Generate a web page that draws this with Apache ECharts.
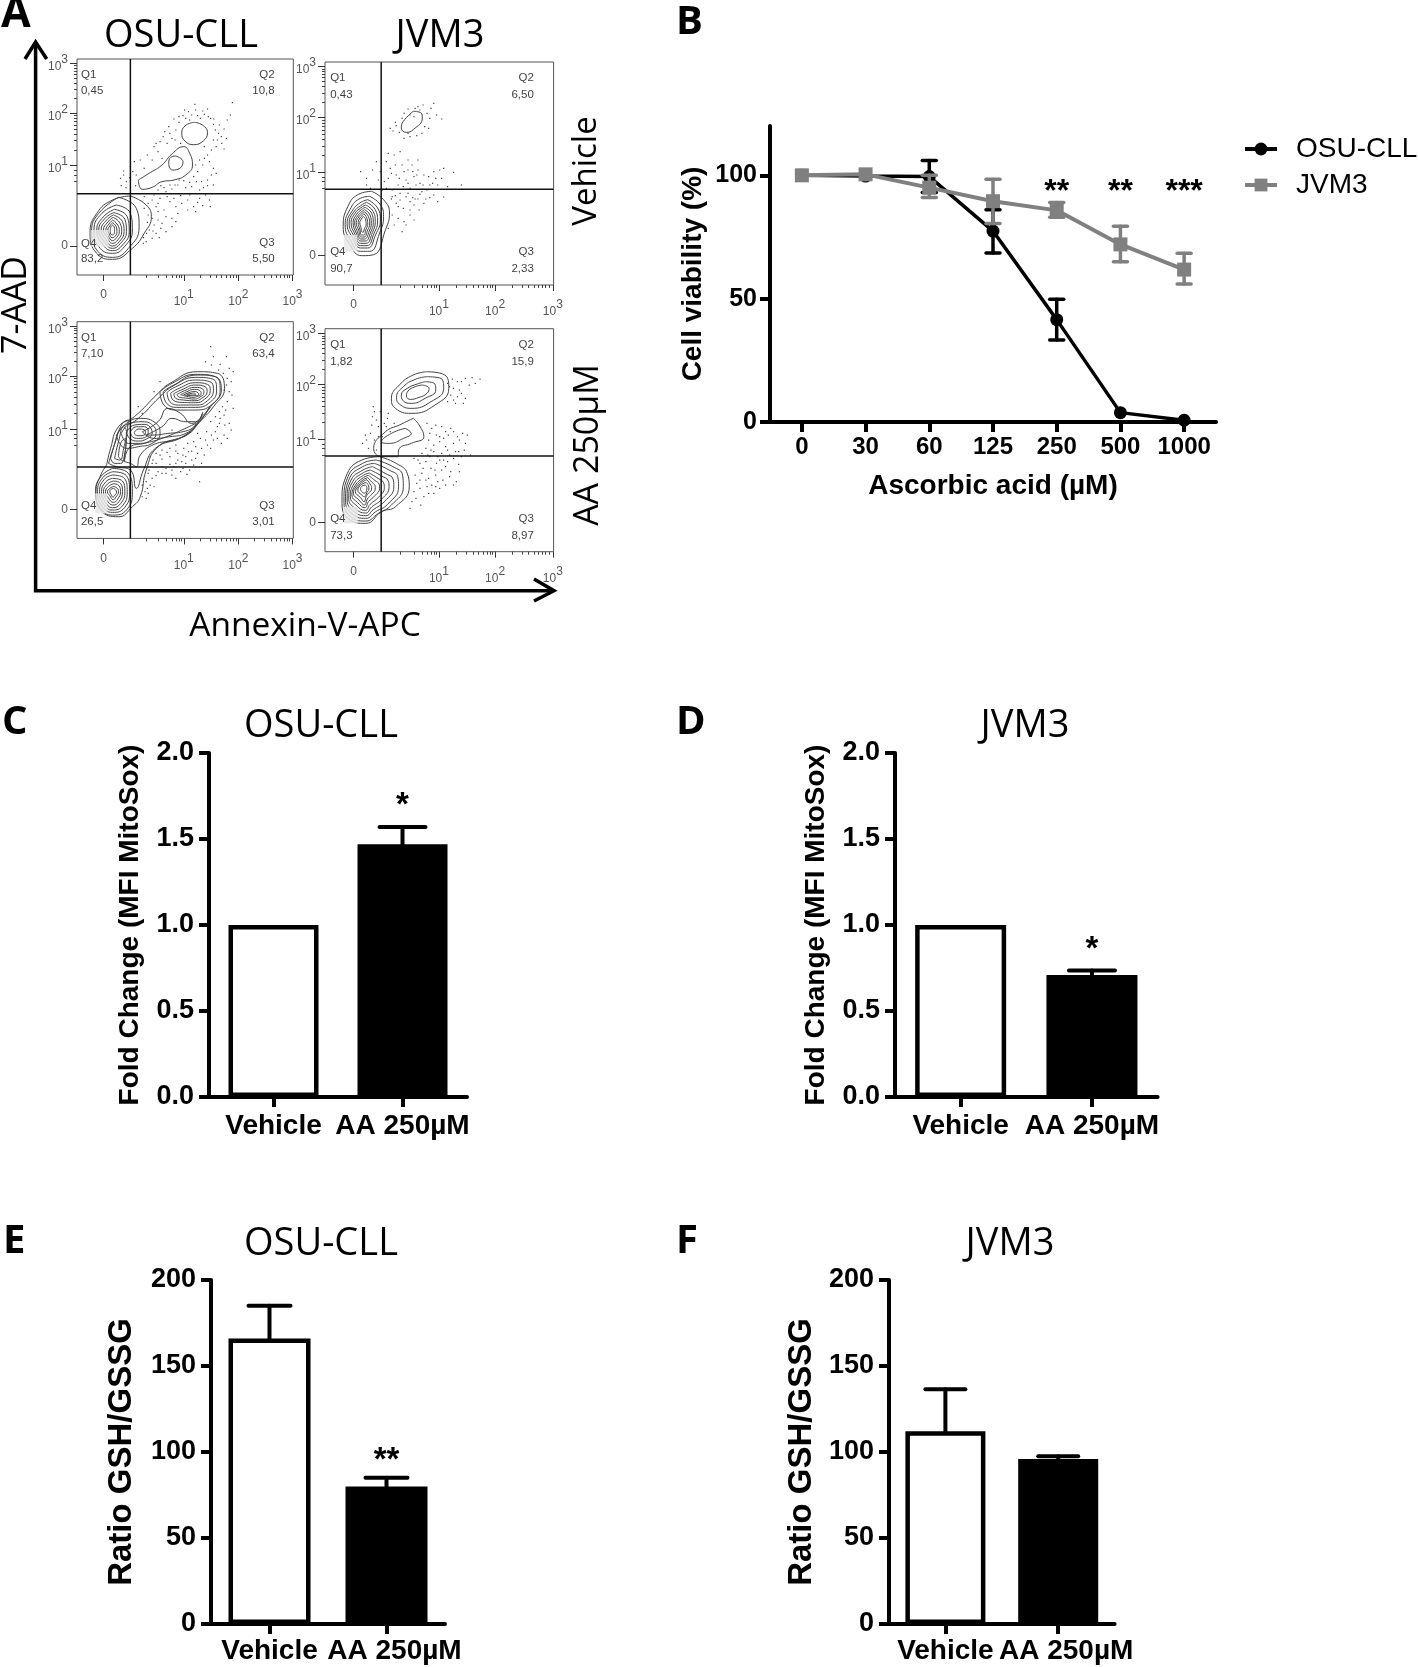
<!DOCTYPE html>
<html><head><meta charset="utf-8">
<script src="https://cdn.jsdelivr.net/npm/echarts@6/dist/echarts.min.js"></script>
<style>html,body{margin:0;padding:0;background:#fff}#c{width:1418px;height:1667px}</style>
</head><body><div id="c"></div>
<script>
// ---------- Panel B ----------
const doseLabels = ['0','30','60','125','250','500','1000'];
const osuViability = [100,99.7,99.5,77.4,41.5,3.8,0.7];
const jvmViability = [100,100.4,95,89.5,85.8,72,61.8];
const osuErrors = [[2,93,106],[3,68.5,86],[4,33.2,49.8]];
const jvmErrors = [[2,91,100],[3,80.5,98.4],[4,83,89],[5,65,79.4],[6,55.9,68.4]];
const viabilityStars = [[4,93,'**'],[5,93,'**'],[6,93,'***']];
// ---------- Panels C-F ----------
const treatments = ['Vehicle','AA 250µM'];
const mitoOsu = [1.0,1.47];  const mitoOsuErr = [[1,1.47,1.57]];  const mitoOsuStars = [[1,1.69,'*']];
const mitoJvm = [1.0,0.71];  const mitoJvmErr = [[1,0.71,0.735]]; const mitoJvmStars = [[1,0.855,'*']];
const gshOsu = [166,80];     const gshOsuErr = [[0,166,185],[1,80,85]]; const gshOsuStars = [[1,95,'**']];
const gshJvm = [112,96];     const gshJvmErr = [[0,112,136.5],[1,96,97.6]];
// ---------- Panel A: flow plots, in display channels ----------
const logLabels = ['0','{b|10}{s|1}','{b|10}{s|2}','{b|10}{s|3}'];
const a1XTicks=[67,270,408,545], a1YTicks=[87,328,485,635];
const a2XTicks=[72,288,430,576], a2YTicks=[88,338,504,655];
const a3YTicks=[87,328,487,637];
const a4YTicks=[87,337,503,655];
const a13XMinor=[175,205,225,240,250,258,264,312,336,353,366,377,387,395,402,449,473,490,503,513,523,531,538];
const a24XMinor=[190,225,245,258,268,276,282,332,358,375,388,400,410,418,424,473,498,515,528,540,550,558,566];
const a1YMinor=[280,300,313,375,403,422,437,450,461,470,478,530,557,575,590,602,612,621,628];
const a2YMinor=[290,310,323,388,416,436,452,465,476,486,495,549,575,595,610,622,632,641,648];
const a3YMinor=[280,300,313,375,403,424,439,452,463,472,480,532,559,577,592,604,614,623,630];
const a4YMinor=[290,310,323,387,415,435,451,464,475,485,494,548,574,594,609,621,631,640,647];
const a1Gates=[135,244], a2Gates=[142,287], a3Gates=[135,214], a4Gates=[142,287];
const a1Quads=[[10,600,'Q1','l'],[10,553,'0,45','l'],[500,600,'Q2','r'],[500,553,'10,8','r'],[10,95,'Q4','l'],[10,48,'83,2','l'],[500,97,'Q3','r'],[500,49,'5,50','r']];
const a2Quads=[[13,621,'Q1','l'],[13,571,'0,43','l'],[528,621,'Q2','r'],[528,571,'6,50','r'],[13,99,'Q4','l'],[13,49,'90,7','l'],[528,99,'Q3','r'],[528,49,'2,33','r']];
const a3Quads=[[10,602,'Q1','l'],[10,555,'7,10','l'],[500,602,'Q2','r'],[500,555,'63,4','r'],[10,97,'Q4','l'],[10,50,'26,5','l'],[500,97,'Q3','r'],[500,50,'3,01','r']];
const a4Quads=[[13,621,'Q1','l'],[13,570,'1,82','l'],[528,621,'Q2','r'],[528,570,'15,9','r'],[13,98,'Q4','l'],[13,48,'73,3','l'],[528,98,'Q3','r'],[528,48,'8,97','r']];
const a1Patch=[35,85,80,135], a2Patch=[48,100,82,150], a3Patch=[46,75,77,135], a4Patch=[46,85,83,135];

const a1Rings=[
[[295,458],[317,450],[330,427],[320,403],[295,391],[273,402],[265,425],[273,447]],
[[155,285],[185,307],[215,330],[240,363],[270,385],[285,365],[292,330],[275,300],[245,285],[215,280],[190,263],[165,257]],
[[250,357],[268,340],[260,320],[242,315],[232,335],[237,353]],
[[135,237],[175,210],[188,175],[170,125],[140,80],[90,47],[50,65],[33,125],[50,185],[90,225]],
[[105,233],[150,200],[157,145],[130,80],[90,53],[50,75],[37,130],[55,185]],
[[100,210],[135,185],[140,135],[120,85],[90,65],[55,85],[43,135],[63,185]],
[[95,197],[127,175],[132,130],[115,90],[90,73],[63,95],[50,135],[67,175]],
[[93,187],[121,167],[125,130],[110,95],[90,80],[67,103],[55,135],[71,170]],
[[92,180],[115,160],[119,130],[107,100],[90,87],[71,110],[61,135],[75,165]],
[[91,173],[109,155],[113,130],[103,105],[90,95],[75,115],[67,135],[78,159]],
[[90,165],[103,150],[107,130],[100,112],[90,103],[78,120],[73,135],[81,153]],
[[90,157],[99,145],[101,130],[97,117],[89,112],[81,125],[78,135],[83,147]],
[[90,150],[95,140],[95,128],[89,120],[84,130],[85,142]]];
const a1Dots=[[110,290],[118,300],[125,280],[135,325],[145,340],[150,300],[160,345],[170,320],[178,360],[190,345],[195,385],[205,370],[210,400],[215,350],[222,430],[228,395],[232,445],[240,410],[245,468],[250,435],[258,458],[262,395],[268,478],[275,470],[282,490],[290,480],[298,512],[305,478],[312,470],[322,482],[330,498],[338,470],[345,452],[350,435],[358,425],[365,415],[372,438],[380,465],[388,480],[393,517],[345,405],[352,385],[340,375],[330,360],[322,385],[310,345],[318,330],[335,340],[345,320],[352,305],[305,310],[295,295],[315,280],[330,285],[345,270],[290,265],[310,255],[275,262],[255,270],[240,258],[225,250],[205,255],[170,235],[180,215],[190,225],[200,205],[210,230],[220,195],[235,220],[250,205],[265,215],[280,225],[295,205],[310,230],[325,240],[335,225],[337,205],[300,190],[280,195],[255,185],[240,170],[225,175],[205,165],[195,150],[212,140],[200,125],[225,130],[190,110],[175,100],[168,112],[183,135],[240,145],[250,160],
[112,268],[124,262],[133,292],[118,312],[141,310],[148,268],[200,395],[218,415],[235,425],[248,405],[258,475],[272,495],[285,465],[300,495],[318,492],[332,475],[346,468],[360,450],[355,405],[366,395],[372,378],[378,410],[300,330],[322,350],[340,300],[330,268],[320,262],[302,280],[285,278],[270,283],[258,285],[248,270],[235,270],[220,262],[212,268],[195,240],[205,215],[228,235],[245,230],[262,238],[285,240],[305,218],[318,208],[170,200],[180,180],[190,170],[178,158],[205,190],[215,155],[168,95],[176,125],[192,132],[208,112]];

const a2Rings=[
[[223,521],[243,516],[246,501],[223,466],[206,458],[193,471],[198,491]],
[[118,281],[148,256],[163,216],[153,166],[123,91],[93,88],[63,121],[46,176],[58,236],[83,271]],
[[113,266],[140,241],[148,206],[138,156],[113,101],[90,101],[66,131],[51,181],[63,226],[86,258]],
[[108,256],[133,231],[140,196],[128,151],[108,111],[90,111],[70,141],[56,184],[68,221],[88,246]],
[[105,248],[127,226],[133,192],[124,155],[106,118],[90,118],[73,147],[61,186],[72,218],[90,238]],
[[103,240],[122,220],[127,190],[120,158],[104,125],[90,125],[76,152],[66,187],[76,215],[91,232]],
[[101,233],[118,215],[122,187],[116,160],[102,132],[90,132],[79,156],[71,187],[80,212],[92,226]],
[[100,226],[114,210],[117,185],[112,162],[100,138],[91,138],[82,160],[75,187],[83,208],[93,220]],
[[99,220],[110,205],[113,183],[108,165],[99,144],[92,144],[85,165],[79,187],[86,205],[93,214]],
[[98,214],[106,200],[108,182],[104,168],[98,150],[93,150],[88,168],[84,187],[89,202],[94,208]],
[[97,206],[103,195],[104,180],[100,170],[96,158],[93,160],[91,172],[88,187],[92,198]]];
const a2Dots=[[165,470],[172,462],[180,478],[188,458],[178,488],[195,500],[200,515],[210,528],[215,510],[228,530],[240,525],[248,540],[258,515],[265,500],[275,545],[295,498],[252,475],[262,470],[245,455],[232,448],[215,445],[200,440],[90,340],[105,320],[115,290],[130,370],[140,340],[150,310],[145,285],[160,395],[165,350],[175,390],[180,330],[185,300],[190,275],[200,340],[205,315],[215,290],[220,360],[225,325],[235,345],[240,305],[250,330],[258,285],[265,300],[275,340],[280,320],[290,345],[300,350],[310,295],[325,338],[345,300],[160,320],[170,285],[195,360],[210,345],[230,300],[245,280],[170,265],[180,245],[190,255],[198,230],[205,265],[215,250],[225,240],[235,258],[250,245],[265,262],[285,250],[300,264],[200,190],[195,160],[225,195],[238,225],[170,210],[160,170],[175,180],
[105,300],[120,345],[135,315],[155,290],[168,335],[178,360],[188,320],[198,295],[210,305],[222,340],[232,330],[248,300],[262,325],[272,305],[285,300],[295,320],[155,370],[190,400],[210,375],[235,375],[168,258],[178,268],[185,235],[210,275],[222,262],[240,272],[255,258],[275,270],[215,225],[228,258],[205,180],[215,210],[185,200],[225,505],[210,455],[235,535],[268,530],[282,510]];

const a3Rings=[
[[90,210],[130,195],[140,140],[125,85],[90,70],[60,90],[47,140],[60,185]],
[[90,200],[125,188],[133,140],[120,92],[90,78],[63,97],[52,140],[65,182]],
[[90,190],[120,180],[127,140],[115,98],[90,85],[67,103],[57,140],[69,177]],
[[90,180],[115,172],[121,140],[110,104],[90,92],[71,110],[62,140],[73,170]],
[[92,172],[110,165],[115,140],[106,110],[91,100],[75,116],[67,140],[77,163]],
[[93,164],[106,158],[110,140],[103,118],[92,108],[79,122],[72,140],[80,156]],
[[93,156],[102,150],[105,140],[99,125],[92,116],[83,128],[77,140],[83,150]],
[[93,150],[98,145],[100,139],[96,130],[91,124],[86,132],[83,140],[86,147]],
[[75,220],[85,270],[105,335],[145,365],[205,435],[235,465],[305,500],[355,495],[373,450],[345,395],[315,355],[275,310],[205,275],[175,205],[160,125],[140,95],[105,65],[60,85],[48,140],[60,190]],
[[80,225],[93,275],[112,330],[150,355],[210,425],[240,455],[305,490],[350,485],[365,445],[338,395],[308,350],[268,305],[198,270],[168,205],[150,150],[135,205],[100,215]],
[[100,310],[125,345],[160,360],[200,345],[210,315],[190,285],[155,275],[125,270],[108,285]],
[[112,315],[135,345],[165,350],[195,335],[200,315],[185,293],[155,285],[130,285]],
[[125,318],[145,340],[170,342],[188,328],[190,315],[175,298],[155,292],[135,298]],
[[135,320],[150,335],[170,335],[180,322],[175,305],[155,300],[140,305]],
[[145,318],[155,328],[170,326],[173,315],[160,308],[148,310]],
[[85,240],[97,290],[115,345],[130,355],[125,300],[120,250],[110,225],[95,225]],
[[95,240],[105,290],[118,335],[125,320],[118,270],[108,235]],
[[105,245],[112,290],[125,300],[122,262],[116,232]],
[[120,230],[135,275],[170,285],[215,300],[265,325],[300,345],[290,320],[245,295],[195,282],[160,250],[150,215],[135,225]],
[[165,320],[205,350],[230,390],[262,375],[290,345],[320,370],[335,395],[310,350],[275,315],[235,305],[195,300]],
[[175,310],[215,335],[240,360],[275,350],[300,350],[318,378],[300,340],[268,320],[230,315],[195,310]],
[[210,440],[240,465],[300,492],[350,485],[362,445],[345,405],[300,385],[255,385],[220,400]],
[[218,440],[245,460],[300,483],[343,478],[353,445],[338,410],[300,393],[258,393],[227,405]],
[[228,438],[250,455],[300,475],[336,470],[345,445],[330,413],[300,400],[262,400],[235,410]],
[[237,436],[258,450],[300,467],[330,462],[337,443],[322,417],[300,407],[266,408],[243,415]],
[[245,434],[265,446],[300,460],[324,455],[329,440],[315,420],[298,413],[270,415],[250,420]],
[[253,432],[272,443],[298,453],[318,448],[321,437],[308,422],[296,418],[275,421],[258,424]],
[[262,431],[278,440],[297,447],[312,442],[314,434],[302,425],[294,423],[278,426]],
[[270,431],[283,437],[296,441],[306,437],[308,432],[298,428],[290,428]],
[[278,431],[288,435],[295,436],[300,433],[293,430]]];
const a3Dots=[[338,575],[325,530],[340,520],[362,522],[378,545],[385,510],[395,500],[380,480],[390,470],[372,445],[385,440],[395,390],[380,410],[368,395],[360,380],[372,370],[385,345],[360,345],[350,365],[338,350],[328,320],[350,320],[372,310],[345,295],[325,295],[305,315],[295,290],[280,285],[315,270],[290,262],[270,270],[250,280],[235,270],[215,265],[200,255],[185,245],[255,255],[235,245],[215,238],[275,245],[300,240],[315,225],[295,220],[275,225],[255,235],[235,222],[215,215],[190,225],[180,195],[175,170],[200,188],[185,160],[180,135],[225,195],[240,190],[262,200],[310,170],[165,125],[175,120],[195,155],[240,325],[210,470],[165,375],[195,440],[155,395],
[345,545],[358,505],[370,495],[378,460],[392,430],[376,385],[362,360],[374,340],[390,325],[355,335],[340,310],[330,280],[312,300],[300,275],[282,260],[268,250],[250,262],[228,258],[210,250],[192,235],[305,255],[322,250],[338,270],[290,235],[265,230],[245,215],[225,210],[205,200],[190,180],[178,150],[172,140],[165,160],[182,205],[200,225],[215,195],[250,180],[268,210],[285,205],[278,192],[240,205],[250,225],[355,300],[365,285],[380,300]];

const a4Rings=[
[[258,540],[303,530],[313,490],[278,440],[218,415],[178,430],[168,460],[188,500],[223,530]],
[[258,525],[293,520],[300,490],[268,450],[218,430],[188,443],[181,463],[198,495],[228,517]],
[[253,510],[278,503],[280,485],[253,460],[218,445],[196,455],[193,470],[208,490],[233,503]],
[[246,500],[263,490],[258,475],[238,463],[216,457],[206,467],[210,482],[228,495]],
[[223,400],[238,380],[250,345],[218,325],[188,310],[183,285],[143,285],[123,310],[153,360],[188,380]],
[[203,370],[218,355],[198,340],[163,325],[143,330],[168,355]],
[[138,285],[180,265],[208,235],[213,195],[178,135],[143,120],[103,85],[58,100],[43,155],[53,225],[93,275]],
[[130,275],[172,255],[196,230],[198,195],[168,140],[135,115],[103,92],[62,108],[48,155],[58,225],[95,265]],
[[125,265],[162,245],[184,225],[186,195],[158,142],[128,120],[103,100],[66,116],[52,155],[62,220],[95,255]],
[[120,255],[152,235],[172,218],[174,195],[150,150],[122,126],[103,108],[70,124],[56,158],[66,215],[96,245]],
[[115,245],[142,228],[160,212],[162,195],[142,156],[118,134],[103,116],[74,132],[60,160],[70,210],[97,237]],
[[112,236],[134,220],[148,207],[150,192],[134,162],[114,142],[102,124],[78,140],[64,165],[74,205],[97,229]],
[[110,229],[126,214],[137,202],[138,190],[126,168],[110,150],[101,132],[82,148],[68,170],[77,200],[97,222]],
[[108,222],[119,208],[127,196],[127,188],[118,172],[107,158],[100,140],[86,155],[72,175],[80,197],[97,216]],
[[106,216],[114,203],[118,192],[117,184],[110,176],[104,165],[99,150],[90,162],[77,180],[83,195],[96,210]],
[[104,208],[110,198],[111,188],[106,178],[100,165],[93,170],[83,185],[88,197],[96,204]],
[[102,200],[106,192],[105,183],[100,176],[95,178],[90,187],[93,196]]];
const a4Dots=[[310,505],[322,518],[335,510],[355,520],[372,522],[392,518],[325,490],[340,485],[318,470],[335,465],[355,460],[330,445],[310,450],[120,405],[122,435],[130,395],[140,420],[150,385],[158,400],[165,360],[175,385],[118,380],[135,345],[105,335],[95,325],[110,310],[130,305],[258,385],[270,370],[282,350],[295,375],[305,360],[318,370],[335,345],[348,355],[262,335],[275,320],[290,330],[305,315],[325,325],[338,300],[352,305],[368,290],[255,310],[275,300],[295,295],[315,290],[345,285],[300,275],[225,280],[240,265],[255,270],[268,250],[282,265],[295,245],[310,270],[325,280],[340,240],[332,210],[315,225],[298,215],[280,230],[262,220],[245,235],[232,205],[225,180],[240,190],[258,195],[275,175],[290,190],[250,165],[215,130],
[345,510],[365,500],[380,505],[315,495],[345,475],[325,455],[350,445],[125,420],[135,375],[145,345],[155,375],[115,355],[125,335],[102,350],[160,415],[265,355],[280,380],[290,345],[300,340],[312,350],[325,360],[340,335],[355,325],[360,350],[268,305],[285,285],[310,305],[330,300],[245,295],[260,290],[235,275],[248,250],[265,285],[278,245],[290,275],[305,255],[318,240],[338,262],[325,200],[305,200],[285,210],[270,200],[255,215],[240,215],[228,230],[262,175],[280,195],[230,160],[220,150],[242,140]];

// ---------- Build ----------
const SANS='Liberation Sans', HEAD='Open Sans';
const grid=[],xAxis=[],yAxis=[],series=[];

function textSeries(xi,yi,items,font,color,z){
  series.push({type:'custom',xAxisIndex:xi,yAxisIndex:yi,silent:true,z:z||6,clip:false,
    data:items.map(d=>[d[0],d[1]]),
    renderItem:(p,api)=>{const it=items[p.dataIndex];const c=api.coord([api.value(0),api.value(1)]);
      return {type:'text',x:c[0],y:c[1],style:{text:it[2],font:font,fill:color,
        align:it[3]==='r'?'right':it[3]==='l'?'left':'center',verticalAlign:'middle'}};}});
}
function errorSeries(xi,yi,items,color,lw,cap,z,both){
  series.push({type:'custom',xAxisIndex:xi,yAxisIndex:yi,silent:true,z:z,data:items,
    renderItem:(p,api)=>{const lo=api.coord([api.value(0),api.value(1)]),hi=api.coord([api.value(0),api.value(2)]);
      const st={stroke:color,lineWidth:lw,lineCap:'round'};
      const kids=[{type:'line',shape:{x1:lo[0],y1:lo[1],x2:hi[0],y2:hi[1]},style:st},
                  {type:'line',shape:{x1:hi[0]-cap,y1:hi[1],x2:hi[0]+cap,y2:hi[1]},style:st}];
      if(both)kids.push({type:'line',shape:{x1:lo[0]-cap,y1:lo[1],x2:lo[0]+cap,y2:lo[1]},style:st});
      return {type:'group',children:kids};}});
}
function addPlot(box,xr,yr,xT,yT,xM,yM,gates,quads,rings,dots,patch){
  const g=grid.length;
  grid.push({left:box[0],top:box[1],width:box[2],height:box[3],show:true,borderColor:'#555',borderWidth:1,backgroundColor:'transparent',containLabel:false});
  const xi=xAxis.length, yi=yAxis.length;
  const lab={show:true,color:'#555',fontFamily:SANS,fontSize:12,
    rich:{b:{fontFamily:SANS,fontSize:12,color:'#555',padding:[7,0,0,0]},s:{fontFamily:SANS,fontSize:12,color:'#555',padding:[0,0,7,0]}}};
  xAxis.push({type:'value',gridIndex:g,min:0,max:xr,position:'bottom',splitLine:{show:false},axisLine:{show:false,onZero:false},
    axisTick:{show:true,length:6,lineStyle:{color:'#333',width:1},customValues:xT},
    axisLabel:Object.assign({},lab,{margin:14,customValues:xT,formatter:v=>logLabels[xT.indexOf(v)]})});
  yAxis.push({type:'value',gridIndex:g,min:0,max:yr,position:'left',splitLine:{show:false},axisLine:{show:false,onZero:false},
    axisTick:{show:true,length:7,lineStyle:{color:'#333',width:1},customValues:yT},
    axisLabel:Object.assign({},lab,{margin:9,customValues:yT,formatter:v=>logLabels[yT.indexOf(v)]})});
  xAxis.push({type:'value',gridIndex:g,min:0,max:xr,position:'bottom',splitLine:{show:false},axisLine:{show:false,onZero:false},
    axisTick:{show:true,length:3,lineStyle:{color:'#444',width:1},customValues:xM},axisLabel:{show:false}});
  yAxis.push({type:'value',gridIndex:g,min:0,max:yr,position:'left',splitLine:{show:false},axisLine:{show:false,onZero:false},
    axisTick:{show:true,length:3,lineStyle:{color:'#444',width:1},customValues:yM},axisLabel:{show:false}});
  series.push({type:'scatter',xAxisIndex:xi,yAxisIndex:yi,data:dots,symbol:'rect',symbolSize:1.2,itemStyle:{color:'#111'},silent:true,z:2});
  rings.forEach(r=>series.push({type:'line',xAxisIndex:xi,yAxisIndex:yi,data:r.concat([r[0]]),smooth:0.5,showSymbol:false,
    lineStyle:{color:'#444',width:1},silent:true,z:3}));
  series.push({type:'custom',xAxisIndex:xi,yAxisIndex:yi,silent:true,z:4,data:[patch],
    renderItem:(p,api)=>{const a=api.coord([api.value(0),api.value(3)]),b=api.coord([api.value(2),api.value(1)]);
      return {type:'rect',shape:{x:a[0],y:a[1],width:b[0]-a[0],height:b[1]-a[1]},style:{fill:'rgba(232,232,232,0.85)'}};}});
  series.push({type:'line',xAxisIndex:xi,yAxisIndex:yi,data:[[gates[0],0],[gates[0],yr]],showSymbol:false,lineStyle:{color:'#111',width:1.5},silent:true,z:5});
  series.push({type:'line',xAxisIndex:xi,yAxisIndex:yi,data:[[0,gates[1]],[xr,gates[1]]],showSymbol:false,lineStyle:{color:'#111',width:1.5},silent:true,z:5});
  textSeries(xi,yi,quads,'11.5px '+SANS,'#444');
}
addPlot([77,59,216.3,216],547,648,a1XTicks,a1YTicks,a13XMinor,a1YMinor,a1Gates,a1Quads,a1Rings,a1Dots,a1Patch);
addPlot([325,62,228.6,223],578,669,a2XTicks,a2YTicks,a24XMinor,a2YMinor,a2Gates,a2Quads,a2Rings,a2Dots,a2Patch);
addPlot([77,321.7,216.3,216.7],547,650,a1XTicks,a3YTicks,a13XMinor,a3YMinor,a3Gates,a3Quads,a3Rings,a3Dots,a3Patch);
addPlot([325,328.7,228.6,223],578,669,a2XTicks,a4YTicks,a24XMinor,a4YMinor,a4Gates,a4Quads,a4Rings,a4Dots,a4Patch);

const axLine={show:true,onZero:false,lineStyle:{color:'#000',width:4}};
const axTick={show:true,length:10,lineStyle:{color:'#000',width:4}};
// Panel B
{
  const g=grid.length,xi=xAxis.length,yi=yAxis.length;
  grid.push({left:770,top:126,width:446,height:296,containLabel:false});
  xAxis.push({type:'category',gridIndex:g,data:doseLabels,axisLine:axLine,axisTick:Object.assign({alignWithLabel:true},axTick),
    axisLabel:{interval:0,color:'#000',fontFamily:SANS,fontWeight:'bold',fontSize:24,margin:13},
    name:'Ascorbic acid (µM)',nameLocation:'middle',nameGap:50,nameMoveOverlap:false,
    nameTextStyle:{color:'#000',fontFamily:SANS,fontWeight:'bold',fontSize:28}});
  yAxis.push({type:'value',gridIndex:g,min:0,max:120,interval:50,splitLine:{show:false},axisLine:axLine,
    axisTick:Object.assign({customValues:[0,50,100]},axTick),
    axisLabel:{customValues:[0,50,100],color:'#000',fontFamily:SANS,fontWeight:'bold',fontSize:25,margin:13},
    name:'Cell viability (%)',nameLocation:'middle',nameRotate:90,nameGap:63,nameMoveOverlap:false,
    nameTextStyle:{color:'#000',fontFamily:SANS,fontWeight:'bold',fontSize:28}});
  errorSeries(xi,yi,osuErrors,'#000',3.5,7,3,true);
  series.push({type:'line',name:'OSU-CLL',xAxisIndex:xi,yAxisIndex:yi,data:osuViability,symbol:'circle',symbolSize:13,
    lineStyle:{color:'#000',width:3.5},itemStyle:{color:'#000'},z:4});
  errorSeries(xi,yi,jvmErrors,'#808080',3.5,7,5,true);
  series.push({type:'line',name:'JVM3',xAxisIndex:xi,yAxisIndex:yi,data:jvmViability,symbol:'rect',symbolSize:14,
    lineStyle:{color:'#808080',width:4},itemStyle:{color:'#808080'},z:6});
  textSeries(xi,yi,viabilityStars,'bold 32px '+SANS,'#000',7);
}
// Panels C-F
function addBars(box,vals,errs,stars,yOpt,name,fs,barW,cap,gap,shift,lm){
  const g=grid.length,xi=xAxis.length,yi=yAxis.length;
  grid.push({left:box[0],top:box[1],width:box[2],height:box[3],containLabel:false});
  xAxis.push({type:'category',gridIndex:g,axisLine:axLine,axisTick:Object.assign({alignWithLabel:true},axTick),
    data:treatments.map((t,i)=>i===1&&shift?{value:t,textStyle:{padding:[0,0,0,shift]}}:t),
    axisLabel:{interval:0,color:'#000',fontFamily:SANS,fontWeight:'bold',fontSize:28,margin:lm,hideOverlap:false}});
  yAxis.push(Object.assign({type:'value',gridIndex:g,splitLine:{show:false},axisLine:axLine,axisTick:axTick,
    name:name,nameLocation:'middle',nameRotate:90,nameGap:gap,nameMoveOverlap:false,
    nameTextStyle:{color:'#000',fontFamily:SANS,fontWeight:'bold',fontSize:fs}},yOpt));
  errorSeries(xi,yi,errs,'#000',4,cap,2,false);
  series.push({type:'bar',xAxisIndex:xi,yAxisIndex:yi,barWidth:barW,z:3,
    data:vals.map((v,i)=>({value:v,itemStyle:{color:i===0?'#fff':'#000',borderColor:'#000',borderWidth:4.5}}))});
  if(stars.length)textSeries(xi,yi,stars,'bold 33px '+SANS,'#000',7);
}
const mfiLab={color:'#000',fontFamily:SANS,fontWeight:'bold',fontSize:27,margin:15,formatter:v=>v.toFixed(1)};
const gshLab={color:'#000',fontFamily:SANS,fontWeight:'bold',fontSize:27,margin:15};
const mfiY={min:0,max:2,interval:0.5,axisLabel:mfiLab}, gshY={min:0,max:200,interval:50,axisLabel:gshLab};
addBars([209,753,258,344],mitoOsu,mitoOsuErr,mitoOsuStars,mfiY,'Fold Change (MFI MitoSox)',28,90,23,65,0,15);
addBars([895,753,262.6,344],mitoJvm,mitoJvmErr,mitoJvmStars,mfiY,'Fold Change (MFI MitoSox)',28,91,23,65,0,15);
addBars([211,1280,234,344],gshOsu,gshOsuErr,gshOsuStars,gshY,'Ratio GSH/GSSG',33,82,21,73,16,13);
addBars([889,1280,225.6,344],gshJvm,gshJvmErr,[],gshY,'Ratio GSH/GSSG',33,80,20,71,16,13);

// Non-data annotation text and panel-A arrows
const T=(text,x,y,font,rot,align)=>({type:'text',x:x,y:y,rotation:rot||0,silent:true,z:20,
  style:{text:text,font:font,fill:'#000',align:align||'center',verticalAlign:'middle'}});
const H='38px '+HEAD, L='bold 40px '+HEAD;
const Q=Math.PI/2;
const graphic=[
  T('A',1,15,'bold 43px '+HEAD,0,'left'),T('B',676,23,L,0,'left'),T('C',2,723,L,0,'left'),T('D',676,723,L,0,'left'),T('E',3,1242,L,0,'left'),T('F',676,1242,L,0,'left'),
  T('OSU-CLL',181,36,H),T('JVM3',440,36,H),T('OSU-CLL',321,726,H),T('JVM3',1025,726,H),T('OSU-CLL',321,1244,H),T('JVM3',1010,1244,H),
  T('7-AAD',16,305,'34px '+HEAD,Q),T('Vehicle',587,171,'33px '+HEAD,Q),T('AA 250µM',588,445,'34px '+HEAD,Q),T('Annexin-V-APC',305,626,'33.5px '+HEAD),
  {type:'polyline',silent:true,shape:{points:[[35.6,42],[35.6,590.7],[553,590.7]]},style:{stroke:'#000',lineWidth:3.5,fill:null}},
  {type:'polyline',silent:true,shape:{points:[[25,59],[35.6,42],[46.7,59]]},style:{stroke:'#000',lineWidth:3.5,fill:null}},
  {type:'polyline',silent:true,shape:{points:[[534,579],[554,590.7],[534,601]]},style:{stroke:'#000',lineWidth:3.5,fill:null}}
];
const chart=echarts.init(document.getElementById('c'),null,{renderer:'canvas'});
chart.setOption({animation:false,backgroundColor:'#fff',grid,xAxis,yAxis,series,graphic,tooltip:{show:false},
  legend:{data:['OSU-CLL','JVM3'],orient:'vertical',left:1238,top:130,itemWidth:32,itemHeight:16,itemGap:8,
    lineStyle:{width:4},
    textStyle:{color:'#000',fontFamily:SANS,fontSize:28,padding:[0,0,0,14]}}});
</script></body></html>
